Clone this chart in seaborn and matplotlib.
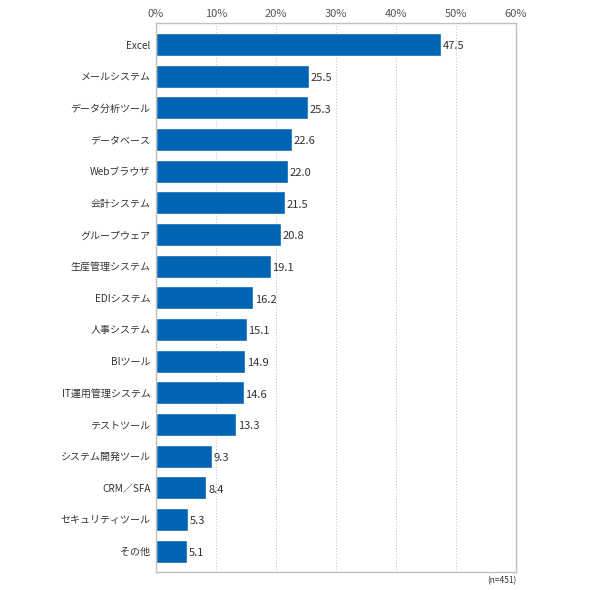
import matplotlib
matplotlib.use("Agg")
import matplotlib.pyplot as plt
import seaborn as sns
import pandas as pd
from matplotlib.ticker import FuncFormatter

categories = ["Excel", "メールシステム", "データ分析ツール", "データベース", "Webブラウザ",
              "会計システム", "グループウェア", "生産管理システム", "EDIシステム", "人事システム",
              "BIツール", "IT運用管理システム", "テストツール", "システム開発ツール", "CRM／SFA",
              "セキュリティツール", "その他"]
values = [47.5, 25.5, 25.3, 22.6, 22.0, 21.5, 20.8, 19.1, 16.2, 15.1, 14.9, 14.6, 13.3, 9.3, 8.4, 5.3, 5.1]
note = "(n=451)"

sns.set_theme(style="white")
plt.rcParams['font.family'] = ['Noto Sans CJK JP', 'DejaVu Sans']

df = pd.DataFrame({"cat": categories, "val": values})

fig = plt.figure(figsize=(5.9, 5.9), dpi=100)
ax = fig.add_axes([156/590, 1 - 572/590, 360/590, 549/590])
sns.barplot(data=df, x="val", y="cat", color="#0064b4", saturation=1, width=0.73, ax=ax)

ax.set_xlim(0, 60)
ax.set_ylim(16.66, -0.68)
ax.set_xticks([0, 10, 20, 30, 40, 50, 60])
ax.xaxis.set_major_formatter(FuncFormatter(lambda v, p: f"{int(v)}%"))
ax.xaxis.tick_top()
ax.tick_params(axis='x', labelsize=8, colors="#555555", length=0, pad=3)
ax.tick_params(axis='y', labelsize=7.2, colors="#333333", length=0, pad=4)
ax.set_xlabel("")
ax.set_ylabel("")
ax.grid(axis='x', linestyle=(0, (1, 2)), color="#bbbbbb", linewidth=0.7)
ax.set_axisbelow(True)
for s in ax.spines.values():
    s.set_visible(True)
    s.set_color("#c0c0c0")
    s.set_linewidth(1.0)

for i, v in enumerate(values):
    ax.text(v + 0.3, i + 0.06, f"{v:.1f}", va="center", ha="left", fontsize=8, color="#333333")

fig.text(517/590, 1 - 581/590, note, ha="right", va="center", fontsize=6, color="#333333")

fig.savefig("out.png", dpi=100)
